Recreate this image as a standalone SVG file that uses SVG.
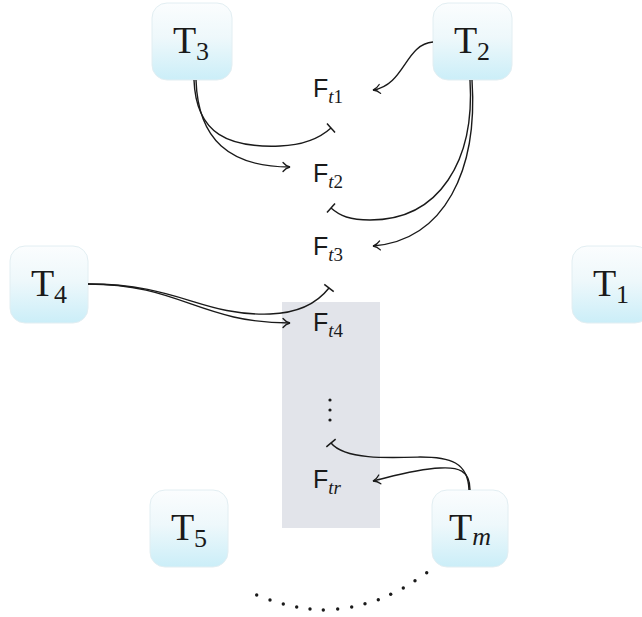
<svg xmlns="http://www.w3.org/2000/svg" width="642" height="617" viewBox="0 0 642 617">
<defs>
<linearGradient id="boxg" x1="0" y1="0" x2="0" y2="1">
<stop offset="0" stop-color="#fbfdfe"/>
<stop offset="0.45" stop-color="#eef8fb"/>
<stop offset="1" stop-color="#cbeef8"/>
</linearGradient>
<marker id="arr" markerUnits="userSpaceOnUse" markerWidth="16" markerHeight="16" viewBox="-10 -8 12 16" refX="0" refY="0" orient="auto">
<path d="M -7 -4.5 C -5 -2, -2 -0.5, 0 0 C -2 0.5, -5 2, -7 4.5" fill="none" stroke="#1a1a1a" stroke-width="1.3" stroke-linecap="round"/>
</marker>
<marker id="tee" markerUnits="userSpaceOnUse" markerWidth="16" markerHeight="16" viewBox="-8 -8 16 16" refX="0" refY="0" orient="auto">
<path d="M 0 -6 L 0 6" fill="none" stroke="#1a1a1a" stroke-width="1.5"/>
</marker>
</defs>
<style>
.box{fill:url(#boxg);stroke:#e2eef2;stroke-width:1}
.tl{font-family:"Liberation Serif","DejaVu Serif",serif;font-size:38px;fill:#1a1a1a}
.ts{font-size:26px}
.fl{font-family:"Liberation Sans","DejaVu Sans",sans-serif;font-size:25px;fill:#1a1a1a}
.fs{font-family:"Liberation Serif","DejaVu Serif",serif;font-size:19px}
.it{font-style:italic}
.c{fill:none;stroke:#1a1a1a;stroke-width:1.4}
.a{marker-end:url(#arr)}
.t{marker-end:url(#tee)}
</style>
<rect x="282" y="302" width="98" height="226" fill="#e2e4ea"/>
<g id="T3"><rect class="box" x="152" y="3" width="80" height="77" rx="15"/><text class="tl" x="191" y="53" text-anchor="middle">T<tspan class="ts" dy="7">3</tspan></text></g>
<g id="T2"><rect class="box" x="433" y="3" width="79" height="77" rx="15"/><text class="tl" x="472" y="53" text-anchor="middle">T<tspan class="ts" dy="7">2</tspan></text></g>
<g id="T4"><rect class="box" x="10" y="246" width="78" height="77" rx="15"/><text class="tl" x="49" y="296" text-anchor="middle">T<tspan class="ts" dy="7">4</tspan></text></g>
<g id="T1"><rect class="box" x="572" y="246" width="78" height="77" rx="15"/><text class="tl" x="611" y="296" text-anchor="middle">T<tspan class="ts" dy="7">1</tspan></text></g>
<g id="T5"><rect class="box" x="150" y="490" width="78" height="77" rx="15"/><text class="tl" x="189" y="540" text-anchor="middle">T<tspan class="ts" dy="7">5</tspan></text></g>
<g id="Tm"><rect class="box" x="432" y="490" width="76" height="77" rx="15"/><text class="tl" x="470" y="540" text-anchor="middle">T<tspan class="ts it" dy="5">m</tspan></text></g>
<g id="Ft1"><text class="fl" x="313" y="97">F<tspan class="fs" dy="6"><tspan class="it">t</tspan>1</tspan></text></g>
<g id="Ft2"><text class="fl" x="313" y="182">F<tspan class="fs" dy="6"><tspan class="it">t</tspan>2</tspan></text></g>
<g id="Ft3"><text class="fl" x="313" y="255">F<tspan class="fs" dy="6"><tspan class="it">t</tspan>3</tspan></text></g>
<g id="Ft4"><text class="fl" x="313" y="331">F<tspan class="fs" dy="6"><tspan class="it">t</tspan>4</tspan></text></g>
<g id="vdots" fill="#1a1a1a"><circle cx="330" cy="400" r="1.6"/><circle cx="330" cy="410" r="1.6"/><circle cx="330" cy="420" r="1.6"/></g>
<g id="Ftr"><text class="fl" x="313" y="488">F<tspan class="fs it" dy="6">tr</tspan></text></g>
<g id="connectors">
<path class="c a" d="M 196 80 C 198 140, 230 167, 290 167"/>
<path class="c t" d="M 194 80 C 196 135, 230 148, 280 146 C 305 145, 320 138, 331 128"/>
<path class="c a" d="M 433 42 C 405 44, 405 85, 373 90"/>
<path class="c a" d="M 472 80 C 478 170, 445 240, 373 246"/>
<path class="c t" d="M 470 80 C 475 160, 440 220, 370 220 C 350 220, 340 216, 331 208"/>
<path class="c a" d="M 88 284 C 180 284, 200 323, 290 323"/>
<path class="c t" d="M 88 284 C 180 284, 200 316, 270 314 C 300 313, 318 302, 329 288"/>
<path class="c a" d="M 470 490 C 470 470, 458 467, 440 468 C 415 469, 390 477, 373 481"/>
<path class="c t" d="M 469 490 C 468 462, 450 457, 420 457 C 390 458, 345 460, 331 443"/>
</g>
<g id="dots" fill="#1a1a1a">
<circle cx="256.7" cy="595" r="1.7"/><circle cx="270" cy="600" r="1.7"/><circle cx="283.3" cy="604" r="1.7"/><circle cx="296.7" cy="607" r="1.7"/><circle cx="310" cy="609" r="1.7"/><circle cx="323.3" cy="610" r="1.7"/><circle cx="337.7" cy="609" r="1.7"/><circle cx="351.7" cy="607" r="1.7"/><circle cx="365" cy="603.7" r="1.7"/><circle cx="378.3" cy="599.7" r="1.7"/><circle cx="390.7" cy="594.3" r="1.7"/><circle cx="403.3" cy="588" r="1.7"/><circle cx="415" cy="580.7" r="1.7"/><circle cx="426.7" cy="572.7" r="1.7"/>
</g>
</svg>
